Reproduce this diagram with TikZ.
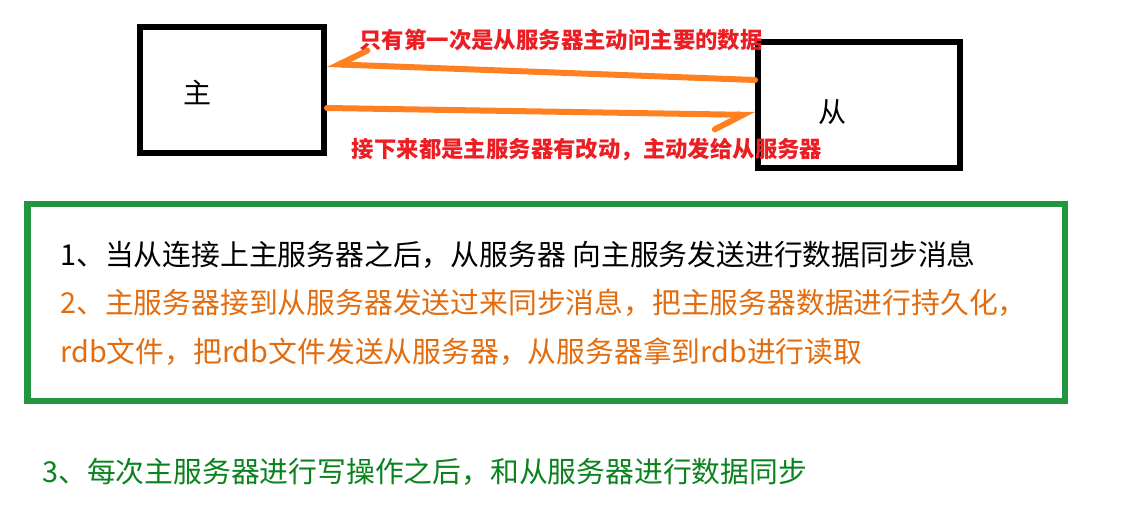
\documentclass[tikz,border=0pt]{standalone}
\usepackage{fontspec}
\setmainfont{Noto Sans CJK SC}
\usepackage{xcolor}
\usetikzlibrary{arrows.meta}
\definecolor{myorange}{RGB}{255,128,32}
\definecolor{myred}{RGB}{236,30,36}
\definecolor{mytext}{RGB}{226,108,14}
\definecolor{mygreen}{RGB}{34,150,62}
\definecolor{mygreentext}{RGB}{10,130,30}
\tikzset{
 server/.style={draw, line width=3pt, minimum width=#1, minimum height=63pt, inner sep=0pt},
 flow/.style={myorange, line width=3pt, line cap=round, -{Straight Barb[harpoon, swap, length=14pt, width=15pt, line width=3pt, line cap=round]}},
 note/.style={myred, font=\fontsize{11.2}{13}\selectfont\bfseries},
 step line/.style={anchor=west, inner sep=0pt, font=\fontsize{14.4}{17}\selectfont}
}

\begin{document}
\begin{tikzpicture}[x=0.5pt, y=-0.5pt]
 \useasboundingbox (0,0) rectangle (1141,528);

 %servers:
 \node[server=92pt] (master) at (232,90.5) {};
 \node[server=101pt] (slave) at (859,105.5) {};
 \node[font=\fontsize{14}{16}\selectfont] (masterlbl) at (197,92) {主};
 \node[font=\fontsize{14}{16}\selectfont] (slavelbl) at (832,112) {从};

 %sync arrows
 \draw[flow] (slave.west |- 0,80) -- (master.east |- 0,64);
 \draw[flow] (master.east |- 0,108) -- (slave.west |- 0,115);
 \node[note] (firsttime) at (561,40) {只有第一次是从服务器主动问主要的数据};
 \node[note] (afterwards) at (587,150) {接下来都是主服务器有改动，主动发给从服务器};

 %steps
 \draw[mygreen, line width=3.25pt] (27.5,204) rectangle (1065,401);
 \node[step line] (step1) at (60,255) {1、当从连接上主服务器之后，从服务器 向主服务发送进行数据同步消息};
 \node[step line, mytext] (step2) at (60,303) {2、主服务器接到从服务器发送过来同步消息，把主服务器数据进行持久化，};
 \node[step line, mytext] (step2b) at (60,352) {rdb文件，把rdb文件发送从服务器，从服务器拿到rdb进行读取};
 \node[step line, mygreentext] (step3) at (42,472) {3、每次主服务器进行写操作之后，和从服务器进行数据同步};
\end{tikzpicture}
\end{document}
